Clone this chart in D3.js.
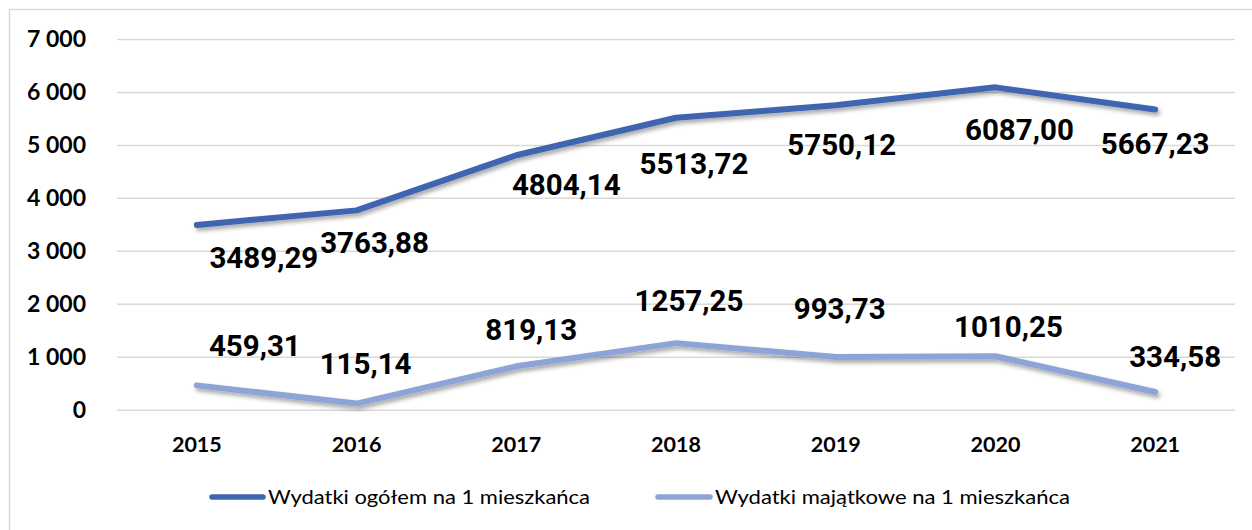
<!DOCTYPE html>
<html>
<head>
<meta charset="utf-8">
<script src="https://cdn.jsdelivr.net/npm/d3@7"></script>
<style>
  html, body { margin: 0; padding: 0; background: #fff; }
  svg { display: block; }
</style>
</head>
<body>
<svg id="chart" width="1252" height="530"></svg>
<script>
// ---- data ----
const years = ["2015", "2016", "2017", "2018", "2019", "2020", "2021"];
const wydatkiOgolem = [3489.29, 3763.88, 4804.14, 5513.72, 5750.12, 6087.00, 5667.23];
const wydatkiMajatkowe = [459.31, 115.14, 819.13, 1257.25, 993.73, 1010.25, 334.58];
const seriesNames = ["Wydatki ogółem na 1 mieszkańca", "Wydatki majątkowe na 1 mieszkańca"];
const yTicks = [0, 1000, 2000, 3000, 4000, 5000, 6000, 7000];

// ---- layout / style (not data) ----
const colors = ["#3F65B0", "#8EA4D7"];
const labelDx = [[67, 18, 50, 18, 6, 24, 0], [58, 9, 15, 13, 4, 13, 20]];
const labelDy = [[43, 43, 40, 56, 50, 53, 44], [-29, -30, -26, -32, -38, -19, -25]];

const svg = d3.select("#chart");
const plot = { left: 117, right: 1235, top: 39, bottom: 409.7 };

const defs = svg.append("defs");
const f = defs.append("filter").attr("id", "shadow")
  .attr("x", "-5%").attr("y", "-50%").attr("width", "110%").attr("height", "200%");
f.append("feDropShadow").attr("dx", 2).attr("dy", 3).attr("stdDeviation", 2)
  .attr("flood-color", "#000").attr("flood-opacity", 0.35);

// border
svg.append("rect").attr("x", 9.5).attr("y", 9.5).attr("width", 1260).attr("height", 540)
  .attr("fill", "none").attr("stroke", "#d9d9d9").attr("stroke-width", 1.5);

const x = d3.scaleBand().domain(years).range([plot.left, plot.right]);
const y = d3.scaleLinear().domain([0, 7000]).range([plot.bottom, plot.top]);
const xc = d => x(d) + x.bandwidth() / 2;

const fmtY = v => d3.format(",")(v).replace(/,/g, " ");
const fmtLabel = v => d3.format(".2f")(v).replace(".", ",");

// y axis + gridlines
const yAxis = svg.append("g").attr("transform", `translate(${plot.left},0)`)
  .call(d3.axisLeft(y).tickValues(yTicks).tickFormat(fmtY)
    .tickSizeInner(-(plot.right - plot.left)).tickSizeOuter(0).tickPadding(31));
yAxis.select(".domain").remove();
yAxis.selectAll(".tick line").attr("stroke", "#d9d9d9").attr("stroke-width", 1.5);
yAxis.selectAll(".tick text")
  .attr("font-family", "Lato, 'Open Sans', sans-serif").attr("font-weight", "bold")
  .attr("font-size", 23).attr("fill", "#000").attr("dy", "0.34em");

// x axis
const xAxis = svg.append("g").attr("transform", `translate(0,${plot.bottom})`)
  .call(d3.axisBottom(x).tickSize(0).tickPadding(27));
xAxis.select(".domain").remove();
xAxis.selectAll(".tick text")
  .attr("font-family", "Lato, 'Open Sans', sans-serif").attr("font-weight", "bold")
  .attr("font-size", 21.5).attr("fill", "#000");

// lines
const allSeries = [wydatkiOgolem, wydatkiMajatkowe];
const line = d3.line().x((d, i) => xc(years[i])).y(d => y(d));
allSeries.forEach((vals, s) => {
  svg.append("path").datum(vals)
    .attr("d", line)
    .attr("fill", "none")
    .attr("stroke", colors[s])
    .attr("stroke-width", 6)
    .attr("stroke-linecap", "round")
    .attr("stroke-linejoin", "round")
    .attr("filter", "url(#shadow)");
});

// data labels
allSeries.forEach((vals, s) => {
  svg.append("g").selectAll("text").data(vals).join("text")
    .attr("x", (d, i) => xc(years[i]) + labelDx[s][i])
    .attr("y", (d, i) => y(d) + labelDy[s][i])
    .attr("text-anchor", "middle")
    .attr("font-family", "Roboto, sans-serif")
    .attr("font-weight", "bold")
    .attr("font-size", 29.5)
    .attr("fill", "#000")
    .text(d => fmtLabel(d));
});

// legend
const legendItems = [
  { x0: 212, x1: 263, tx: 268, tw: 322 },
  { x0: 658, x1: 710, tx: 715, tw: 355 }
];
const lg = svg.append("g");
seriesNames.forEach((name, s) => {
  const it = legendItems[s];
  lg.append("line").attr("x1", it.x0).attr("x2", it.x1).attr("y1", 497).attr("y2", 497)
    .attr("stroke", colors[s]).attr("stroke-width", 5.5).attr("stroke-linecap", "round");
  lg.append("text").attr("x", it.tx).attr("y", 504)
    .attr("font-family", "Lato, 'Open Sans', sans-serif")
    .attr("font-size", 20).attr("fill", "#000")
    .attr("textLength", it.tw).attr("lengthAdjust", "spacingAndGlyphs")
    .text(name);
});
</script>
</body>
</html>
